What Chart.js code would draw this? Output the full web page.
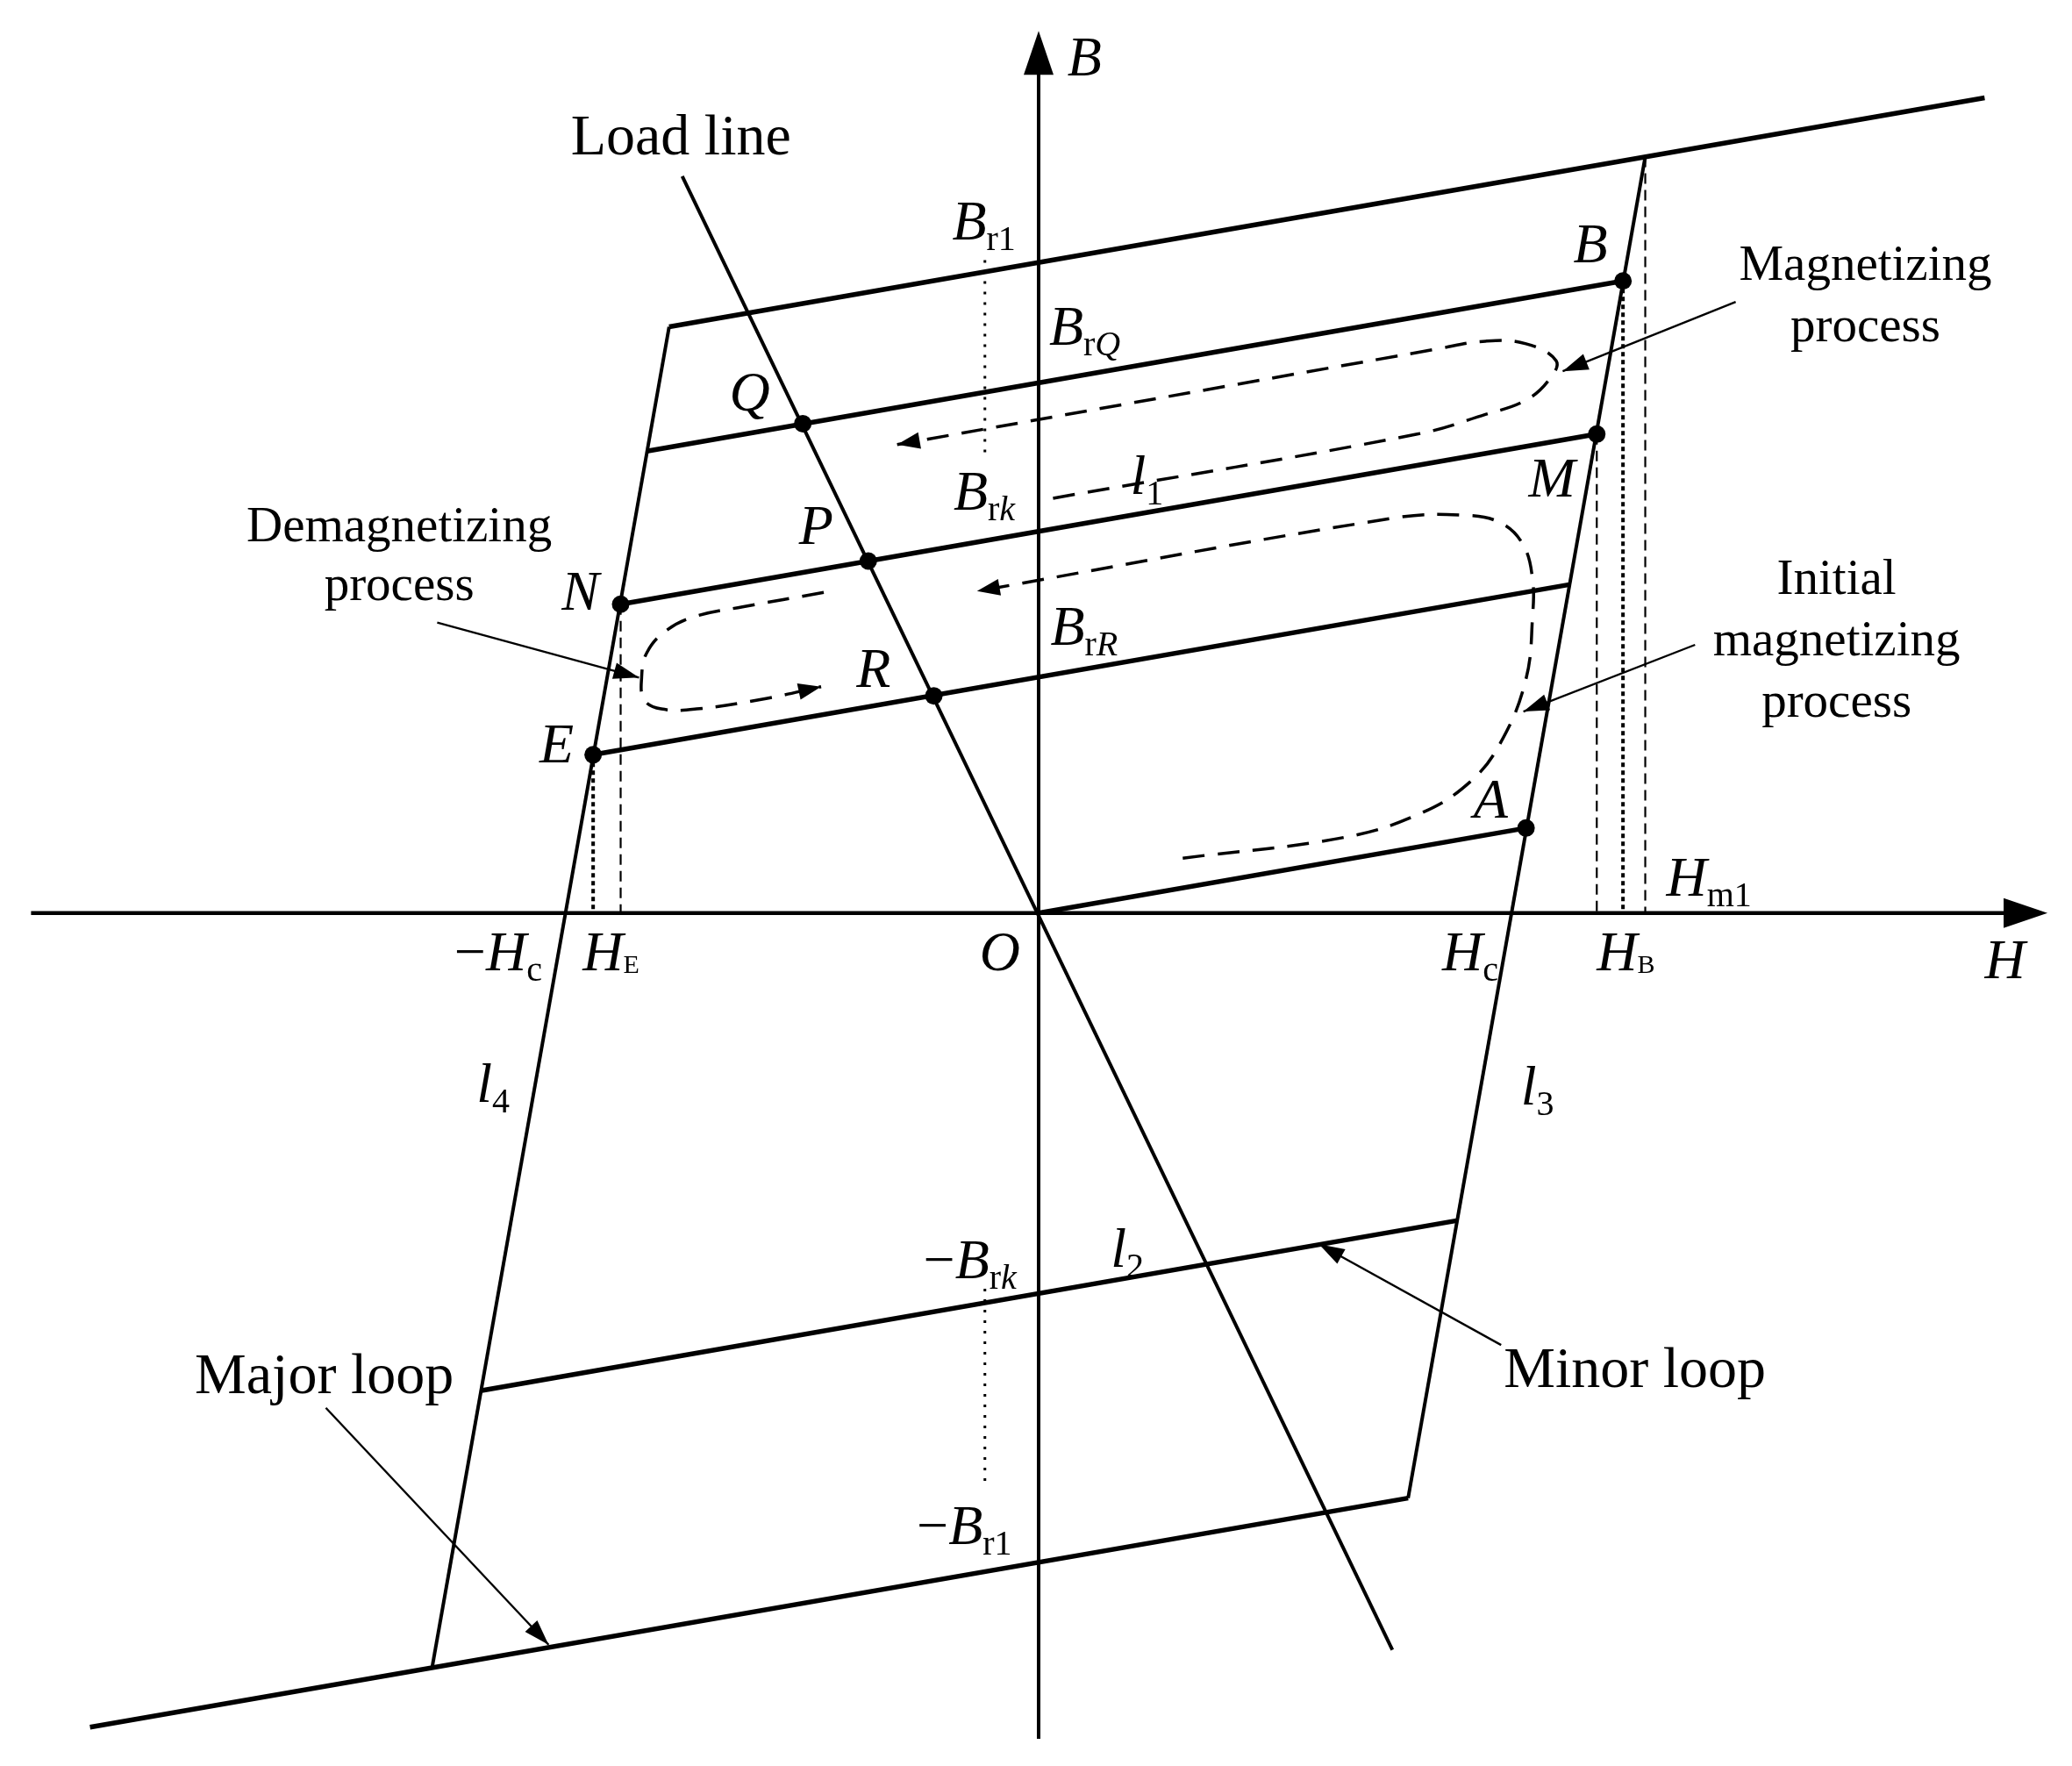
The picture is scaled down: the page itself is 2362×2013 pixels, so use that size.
<!DOCTYPE html>
<html>
<head>
<meta charset="utf-8">
<script src="https://cdn.jsdelivr.net/npm/chart.js@4.4.1/dist/chart.umd.min.js"></script>
<style>
  html, body { margin: 0; padding: 0; background: #fff; }
  #wrap { width: 2362px; height: 2013px; }
</style>
</head>
<body>
<div id="wrap"><canvas id="bh" width="2362" height="2013"></canvas></div>
<script>
// B-H plane, H to the right, B up, origin O

// loop branches, drawn thick
const majorTop = [[-282, 448], [722, 623]];
const majorBottom = [[-724, -622], [282, -447]];
const lineQ = [[-299, 353], [446, 483]];
const lineL1 = [[-319, 236], [426, 366]];
const lineR = [[-340, 121], [405, 251]];
const lineA = [[0, 0], [372, 65]];
const lineL2 = [[-426, -365], [319, -235]];

// steep sides (l3, l4) and the load line
const sideL3 = [[282, -447], [463, 578]];
const sideL4 = [[-463, -577], [-282, 448]];
const loadLine = [[-272, 563], [270, -563]];

// axes, the last value is the arrow tip
const axisH = [[-769, 0], [745, 0], [770, 0]];
const axisB = [[0, -631], [0, 650], [0, 674]];

// marked operating points
const pointNames = ['B', 'M', 'A', 'N', 'E', 'Q', 'P', 'R'];
const pointH = [446, 426, 372, -319, -340, -180, -130, -80];
const pointB = [483, 366, 65, 236, 121, 374, 269, 166];

// guide lines down to the H axis
const dashedGuides = [[[463, 578], [463, 0]], [[426, 366], [426, 0]], [[-319, 236], [-319, 0]]];
const dottedGuides = [[[446, 483], [446, 0]], [[-340, 121], [-340, 0]]];
const fineGuides = [[[-41, 499], [-41, 350]], [[-41, -287], [-41, -439]]];

// dashed process paths (start -> arrow end)
const pathMagnetizing = [[11, 317], [289, 366], [341, 381], [372, 392], [390, 408], [395, 422],
  [372, 435], [341, 437], [304, 431], [-108, 358]];
const pathInitial = [[110, 42], [234, 58], [291, 76], [329, 100], [353, 131], [372, 179], [377, 227],
  [377, 255], [370, 281], [353, 298], [325, 304], [272, 302], [-47, 246]];
const pathDemag = [[-164, 245], [-226, 234], [-261, 227], [-284, 216], [-299, 199], [-303, 180],
  [-301, 163], [-288, 156], [-261, 156], [-208, 164], [-166, 173]];

// pointer lines for the captions [from, tip]
const pointers = [
  [[532, 467], [400, 414]],
  [[-459, 222], [-305, 180]],
  [[501, 205], [370, 154]],
  [[353, -330], [214, -253]],
  [[-544, -378], [-374, -559]]
];

const SERIF = '"Liberation Serif", "Times New Roman", serif';
const FONTS = {
  it:   { f: 'italic 64px ' + SERIF, dy: 0 },
  rm:   { f: '64px ' + SERIF, dy: 0 },
  sub:  { f: '40px ' + SERIF, dy: 12 },
  subi: { f: 'italic 40px ' + SERIF, dy: 12 },
  sc:   { f: '30px ' + SERIF, dy: 3 },
  big:  { f: '66px ' + SERIF, dy: 0 },
  txt:  { f: '57px ' + SERIF, dy: 0 }
};

// text labels: [H, B, align, runs]
const labels = [
  [22, 640, 'left', [['B', 'it']]],
  [-273, 580, 'center', [['Load line', 'big']]],
  [-66, 515, 'left', [['B', 'it'], ['r1', 'sub']]],
  [8, 434, 'left', [['B', 'it'], ['r', 'sub'], ['Q', 'subi']]],
  [-65, 308, 'left', [['B', 'it'], ['r', 'sub'], ['k', 'subi']]],
  [9, 205, 'left', [['B', 'it'], ['r', 'sub'], ['R', 'subi']]],
  [70, 320, 'left', [['l', 'it'], ['1', 'sub']]],
  [408, 497, 'left', [['B', 'it']]],
  [374, 318, 'left', [['M', 'it']]],
  [-236, 384, 'left', [['Q', 'it']]],
  [-183, 282, 'left', [['P', 'it']]],
  [-139, 173, 'left', [['R', 'it']]],
  [-364, 232, 'left', [['N', 'it']]],
  [-381, 115, 'left', [['E', 'it']]],
  [332, 73, 'left', [['A', 'it']]],
  [479, 13, 'left', [['H', 'it'], ['m1', 'sub']]],
  [-446, -44, 'left', [['\u2212', 'rm'], ['H', 'it'], ['c', 'sub']]],
  [-348, -44, 'left', [['H', 'it'], ['E', 'sc']]],
  [-45, -44, 'left', [['O', 'it']]],
  [308, -44, 'left', [['H', 'it'], ['c', 'sub']]],
  [426, -44, 'left', [['H', 'it'], ['B', 'sc']]],
  [722, -50, 'left', [['H', 'it']]],
  [-429, -144, 'left', [['l', 'it'], ['4', 'sub']]],
  [368, -146, 'left', [['l', 'it'], ['3', 'sub']]],
  [55, -270, 'left', [['l', 'it'], ['2', 'sub']]],
  [-88, -279, 'left', [['\u2212', 'rm'], ['B', 'it'], ['r', 'sub'], ['k', 'subi']]],
  [-93, -482, 'left', [['\u2212', 'rm'], ['B', 'it'], ['r1', 'sub']]],
  [355, -362, 'left', [['Minor loop', 'big']]],
  [-644, -367, 'left', [['Major loop', 'big']]],
  [631, 484, 'center', [['Magnetizing', 'txt']]],
  [631, 437, 'center', [['process', 'txt']]],
  [-488, 284, 'center', [['Demagnetizing', 'txt']]],
  [-488, 239, 'center', [['process', 'txt']]],
  [609, 244, 'center', [['Initial', 'txt']]],
  [609, 197, 'center', [['magnetizing', 'txt']]],
  [609, 150, 'center', [['process', 'txt']]]
];

const toXY = arr => arr.map(p => ({ x: p[0], y: p[1] }));

function seg(data, width, dash, tension) {
  return {
    data: toXY(data),
    showLine: true,
    borderColor: '#000',
    borderWidth: width,
    borderDash: dash || [],
    borderCapStyle: 'butt',
    tension: tension || 0,
    pointRadius: 0,
    fill: false
  };
}

const datasets = [];
[majorTop, majorBottom, lineQ, lineL1, lineR, lineA, lineL2].forEach(d => datasets.push(seg(d, 5.5)));
[sideL3, sideL4, loadLine].forEach(d => datasets.push(seg(d, 4)));
datasets.push(seg(axisH.slice(0, 2), 4.5));
datasets.push(seg(axisB.slice(0, 2), 4));
dashedGuides.forEach(d => datasets.push(seg(d, 2.2, [12, 7])));
dottedGuides.forEach(d => datasets.push(seg(d, 4, [5, 4])));
fineGuides.forEach(d => datasets.push(seg(d, 3, [3, 9])));
[pathMagnetizing, pathInitial, pathDemag].forEach(d => datasets.push(seg(d, 3.5, [25, 15], 0.4)));
pointers.forEach(d => datasets.push(seg(d, 2.4)));
datasets.push({
  data: pointH.map((h, i) => ({ x: h, y: pointB[i], name: pointNames[i] })),
  showLine: false,
  pointRadius: 10,
  pointBackgroundColor: '#000',
  pointBorderWidth: 0
});

// arrow heads: [tip, from, length, width]
const heads = [
  [axisH[2], axisH[0], 50, 34],
  [axisB[2], axisB[0], 50, 34]
];
[pathMagnetizing, pathInitial, pathDemag].forEach(p => heads.push([p[p.length - 1], p[p.length - 2], 26, 19]));
pointers.forEach(p => heads.push([p[1], p[0], 29, 19]));

const pix = (c, p) => [c.scales.x.getPixelForValue(p[0]), c.scales.y.getPixelForValue(p[1])];

const decorPlugin = {
  id: 'decor',
  afterDatasetsDraw(chart) {
    const ctx = chart.ctx;
    ctx.save();
    ctx.fillStyle = '#000';
    heads.forEach(h => {
      const t = pix(chart, h[0]), f = pix(chart, h[1]);
      const a = Math.atan2(t[1] - f[1], t[0] - f[0]);
      ctx.save();
      ctx.translate(t[0], t[1]);
      ctx.rotate(a);
      ctx.beginPath();
      ctx.moveTo(0, 0);
      ctx.lineTo(-h[2], h[3] / 2);
      ctx.lineTo(-h[2], -h[3] / 2);
      ctx.closePath();
      ctx.fill();
      ctx.restore();
    });

    ctx.textBaseline = 'alphabetic';
    ctx.textAlign = 'left';
    labels.forEach(l => {
      const p = pix(chart, [l[0], l[1]]);
      let w = 0;
      l[3].forEach(r => { ctx.font = FONTS[r[1]].f; w += ctx.measureText(r[0]).width; });
      let x = l[2] === 'center' ? p[0] - w / 2 : p[0];
      l[3].forEach(r => {
        const s = FONTS[r[1]];
        ctx.font = s.f;
        ctx.fillText(r[0], x, p[1] + s.dy);
        x += ctx.measureText(r[0]).width;
      });
    });
    ctx.restore();
  }
};

new Chart(document.getElementById('bh'), {
  type: 'scatter',
  data: { datasets: datasets },
  options: {
    responsive: false,
    animation: false,
    devicePixelRatio: 1,
    layout: { padding: 0 },
    scales: {
      x: { type: 'linear', min: -786, max: 782, display: false },
      y: { type: 'linear', min: -645, max: 691, display: false }
    },
    plugins: { legend: { display: false }, tooltip: { enabled: false } }
  },
  plugins: [decorPlugin]
});
</script>
</body>
</html>
